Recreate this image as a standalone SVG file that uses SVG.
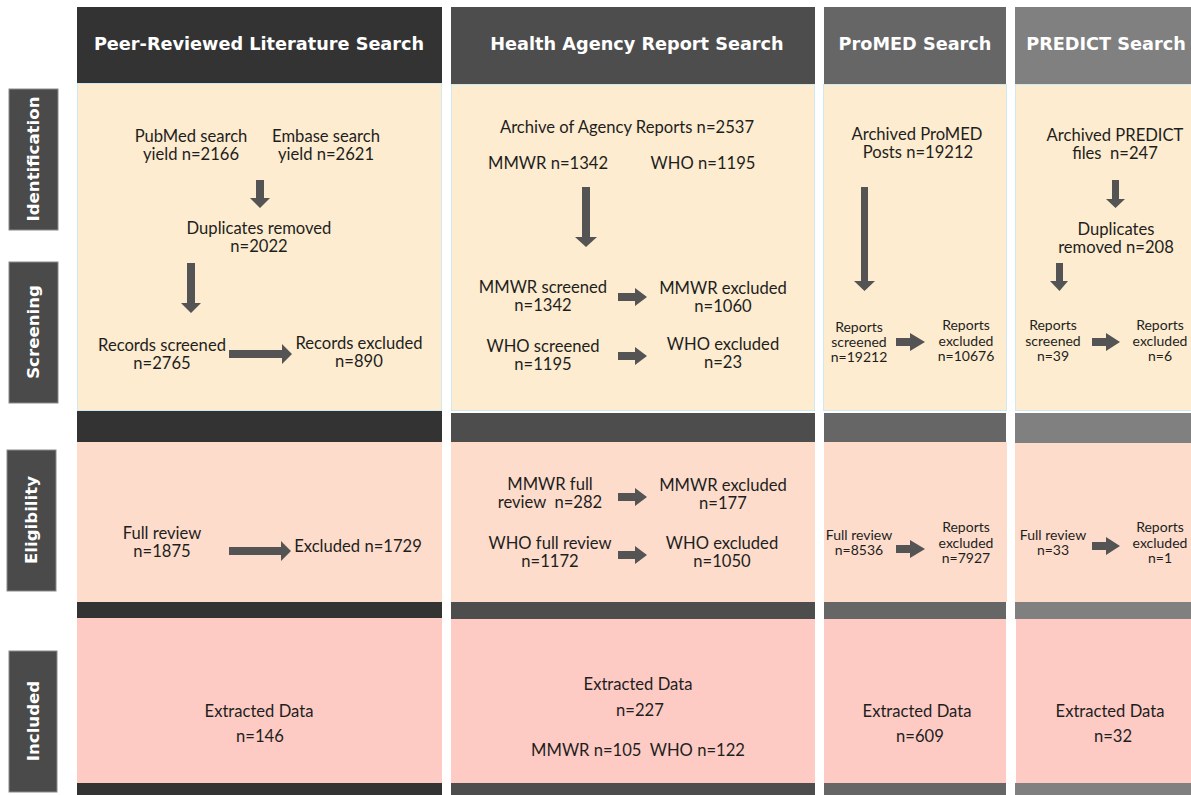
<svg xmlns="http://www.w3.org/2000/svg" width="1191" height="795" viewBox="0 0 1191 795">
<defs>
<style>
.t{font-family:Lato,"Open Sans",sans-serif;font-size:16.6px;fill:#1e1e1e;text-anchor:middle}
.s{font-family:Lato,"Open Sans",sans-serif;font-size:14px;fill:#1e1e1e;text-anchor:middle}
.h{font-family:"DejaVu Sans",sans-serif;font-size:17.7px;font-weight:bold;fill:#ffffff;text-anchor:middle}
.lb{font-family:"DejaVu Sans",sans-serif;font-size:16.6px;font-weight:bold;fill:#ffffff;text-anchor:middle}
.lbox{fill:#4a4a4a;stroke:#8a8a8a;stroke-width:1}
.yel{fill:#fdeccf;stroke:#cfe9f1;stroke-width:1}
.pea{fill:#fddccb}
.pnk{fill:#fdcbc4}
.ar{fill:#545454}
</style>
</defs>
<rect width="1191" height="795" fill="#ffffff"/>

<!-- stage labels -->
<g id="label-identification"><rect class="lbox" x="9" y="89" width="49" height="141"/><text class="lb" transform="translate(39,159) rotate(-90)">Identification</text></g>
<g id="label-screening"><rect class="lbox" x="9" y="262" width="49" height="141"/><text class="lb" transform="translate(39,332) rotate(-90)">Screening</text></g>
<g id="label-eligibility"><rect class="lbox" x="7" y="450" width="49" height="141"/><text class="lb" transform="translate(37,520) rotate(-90)">Eligibility</text></g>
<g id="label-included"><rect class="lbox" x="9" y="651" width="48" height="141"/><text class="lb" transform="translate(39,721) rotate(-90)">Included</text></g>

<!-- column 1 -->
<g id="col-peer">
<rect x="77" y="7" width="365" height="76" fill="#333333"/>
<rect class="yel" x="77.5" y="83.5" width="364" height="327"/>
<rect x="77" y="411" width="365" height="31" fill="#333333"/>
<rect class="pea" x="77" y="442" width="365" height="160"/>
<rect x="77" y="602" width="365" height="16" fill="#333333"/>
<rect class="pnk" x="77" y="618" width="365" height="165"/>
<rect x="77" y="783" width="365" height="12" fill="#333333"/>
<text class="h" x="259" y="50">Peer-Reviewed Literature Search</text>
</g>
<g id="node-pubmed"><text class="t" x="191" y="142">PubMed search</text><text class="t" x="191" y="160">yield n=2166</text></g>
<g id="node-embase"><text class="t" x="326" y="142">Embase search</text><text class="t" x="326" y="160">yield n=2621</text></g>
<g id="node-dup1"><text class="t" x="259" y="234">Duplicates removed</text><text class="t" x="259" y="252">n=2022</text></g>
<g id="node-rec-screened"><text class="t" x="162" y="351">Records screened</text><text class="t" x="162" y="369">n=2765</text></g>
<g id="node-rec-excluded"><text class="t" x="359" y="349">Records excluded</text><text class="t" x="359" y="367">n=890</text></g>
<g id="node-full1"><text class="t" x="162" y="539">Full review</text><text class="t" x="162" y="557">n=1875</text></g>
<g id="node-excl1"><text class="t" x="358" y="552">Excluded n=1729</text></g>
<g id="node-extr1"><text class="t" x="259" y="717">Extracted Data</text><text class="t" x="260" y="742">n=146</text></g>

<!-- column 2 -->
<g id="col-agency">
<rect x="451" y="7" width="364" height="77" fill="#4d4d4d"/>
<rect class="yel" x="451.5" y="84.5" width="363" height="326"/>
<rect x="451" y="413" width="364" height="29" fill="#4d4d4d"/>
<rect class="pea" x="451" y="442" width="364" height="160"/>
<rect x="451" y="602" width="364" height="17" fill="#4d4d4d"/>
<rect class="pnk" x="451" y="619" width="364" height="164"/>
<rect x="451" y="783" width="364" height="12" fill="#4d4d4d"/>
<text class="h" x="637" y="50">Health Agency Report Search</text>
</g>
<g id="node-archive"><text class="t" x="627" y="133">Archive of Agency Reports n=2537</text></g>
<g id="node-mmwr"><text class="t" x="548" y="169">MMWR n=1342</text></g>
<g id="node-who"><text class="t" x="703" y="169">WHO n=1195</text></g>
<g id="node-mmwr-scr"><text class="t" x="543" y="293">MMWR screened</text><text class="t" x="543" y="311">n=1342</text></g>
<g id="node-mmwr-exc"><text class="t" x="723" y="294">MMWR excluded</text><text class="t" x="723" y="312">n=1060</text></g>
<g id="node-who-scr"><text class="t" x="543" y="352">WHO screened</text><text class="t" x="543" y="370">n=1195</text></g>
<g id="node-who-exc"><text class="t" x="723" y="350">WHO excluded</text><text class="t" x="723" y="368">n=23</text></g>
<g id="node-mmwr-full"><text class="t" x="550" y="490">MMWR full</text><text class="t" x="550" y="508" xml:space="preserve">review  n=282</text></g>
<g id="node-mmwr-exc2"><text class="t" x="723" y="491">MMWR excluded</text><text class="t" x="723" y="509">n=177</text></g>
<g id="node-who-full"><text class="t" x="550" y="549">WHO full review</text><text class="t" x="550" y="567">n=1172</text></g>
<g id="node-who-exc2"><text class="t" x="722" y="549">WHO excluded</text><text class="t" x="722" y="567">n=1050</text></g>
<g id="node-extr2"><text class="t" x="638" y="690">Extracted Data</text><text class="t" x="640" y="716">n=227</text><text class="t" x="638" y="756" xml:space="preserve">MMWR n=105  WHO n=122</text></g>

<!-- column 3 -->
<g id="col-promed">
<rect x="824" y="7" width="182" height="77" fill="#666666"/>
<rect class="yel" x="823.5" y="84.5" width="183" height="326"/>
<rect x="824" y="413" width="182" height="29" fill="#666666"/>
<rect class="pea" x="824" y="442" width="183" height="160"/>
<rect x="824" y="602" width="182" height="17" fill="#666666"/>
<rect class="pnk" x="824" y="619" width="182" height="164"/>
<rect x="824" y="783" width="182" height="12" fill="#666666"/>
<text class="h" x="915" y="50">ProMED Search</text>
</g>
<g id="node-promed-arch"><text class="t" x="917" y="140">Archived ProMED</text><text class="t" x="918" y="158">Posts n=19212</text></g>
<g id="node-promed-scr"><text class="s" x="859" y="332">Reports</text><text class="s" x="859" y="347">screened</text><text class="s" x="859" y="362">n=19212</text></g>
<g id="node-promed-exc"><text class="s" x="966" y="330">Reports</text><text class="s" x="966" y="346">excluded</text><text class="s" x="966" y="361">n=10676</text></g>
<g id="node-promed-full"><text class="s" x="859" y="540">Full review</text><text class="s" x="859" y="555">n=8536</text></g>
<g id="node-promed-exc2"><text class="s" x="966" y="532">Reports</text><text class="s" x="966" y="548">excluded</text><text class="s" x="966" y="563">n=7927</text></g>
<g id="node-extr3"><text class="t" x="917" y="717">Extracted Data</text><text class="t" x="920" y="742">n=609</text></g>

<!-- column 4 -->
<g id="col-predict">
<rect x="1015" y="7" width="176" height="77" fill="#808080"/>
<rect class="yel" x="1015.5" y="84.5" width="176" height="326"/>
<rect x="1015" y="413" width="176" height="30" fill="#808080"/>
<rect class="pea" x="1015" y="443" width="176" height="159"/>
<rect x="1015" y="602" width="176" height="17" fill="#808080"/>
<rect class="pnk" x="1016" y="619" width="175" height="164"/>
<rect x="1015" y="783" width="176" height="12" fill="#808080"/>
<text class="h" x="1106" y="50">PREDICT Search</text>
</g>
<g id="node-predict-arch"><text class="t" x="1115" y="141">Archived PREDICT</text><text class="t" x="1115" y="159" xml:space="preserve">files  n=247</text></g>
<g id="node-dup4"><text class="t" x="1116" y="235">Duplicates</text><text class="t" x="1116" y="253">removed n=208</text></g>
<g id="node-predict-scr"><text class="s" x="1053" y="330">Reports</text><text class="s" x="1053" y="346">screened</text><text class="s" x="1053" y="361">n=39</text></g>
<g id="node-predict-exc"><text class="s" x="1160" y="330">Reports</text><text class="s" x="1160" y="346">excluded</text><text class="s" x="1160" y="361">n=6</text></g>
<g id="node-predict-full"><text class="s" x="1053" y="540">Full review</text><text class="s" x="1053" y="555">n=33</text></g>
<g id="node-predict-exc2"><text class="s" x="1160" y="532">Reports</text><text class="s" x="1160" y="548">excluded</text><text class="s" x="1160" y="563">n=1</text></g>
<g id="node-extr4"><text class="t" x="1110" y="717">Extracted Data</text><text class="t" x="1113" y="742">n=32</text></g>

<!-- connectors -->
<g id="connectors">
<polygon class="ar" points="256,180 264,180 264,198 270,198 260,208 250,198 256,198"/>
<polygon class="ar" points="187,263 195,263 195,303 201,303 191,313 181,303 187,303"/>
<polygon class="ar" points="229,350 282,350 282,344 292,354 282,364 282,358 229,358"/>
<polygon class="ar" points="229,547 281,547 281,541 291,551 281,561 281,555 229,555"/>
<polygon class="ar" points="582,187 590,187 590,237 597,237 586,247 575,237 582,237"/>
<polygon class="ar" points="618,293 635,293 635,288 647,297 635,306 635,301 618,301"/>
<polygon class="ar" points="618,352 635,352 635,347 647,356 635,365 635,360 618,360"/>
<polygon class="ar" points="618,493 635,493 635,488 647,497 635,506 635,501 618,501"/>
<polygon class="ar" points="618,551 635,551 635,546 647,555 635,564 635,559 618,559"/>
<polygon class="ar" points="861,187 868,187 868,281 875,281 864.5,291 854,281 861,281"/>
<polygon class="ar" points="896,338 910,338 910,333 925,342 910,351 910,346 896,346"/>
<polygon class="ar" points="896,545 910,545 910,540 925,549 910,558 910,553 896,553"/>
<polygon class="ar" points="1112,180 1119,180 1119,199 1125,199 1115.5,208 1106,199 1112,199"/>
<polygon class="ar" points="1056,263 1063,263 1063,281 1068,281 1059.5,291 1050,281 1056,281"/>
<polygon class="ar" points="1092,338 1106,338 1106,333 1120,342 1106,351 1106,346 1092,346"/>
<polygon class="ar" points="1092,542 1106,542 1106,537 1120,546 1106,555 1106,550 1092,550"/>
</g>
</svg>
